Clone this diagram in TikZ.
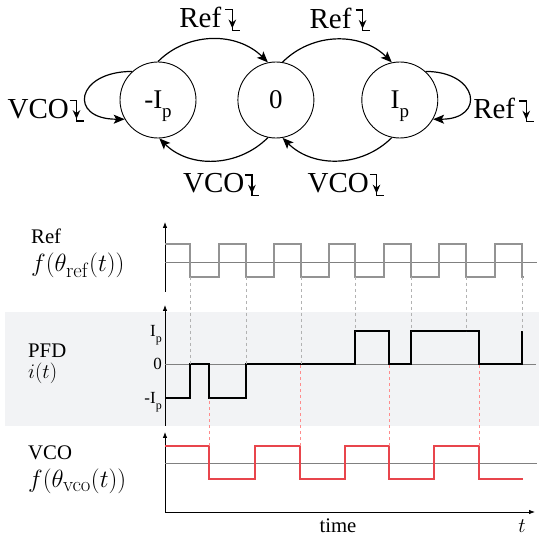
\documentclass[tikz,border=0pt]{standalone}
\usepackage[no-math]{fontspec}
\setmainfont{Liberation Serif}
\usetikzlibrary{arrows.meta, positioning}

\definecolor{bandgray}{HTML}{F2F3F5}
\definecolor{vcored}{HTML}{E8454C}

% falling-edge mark after an event name
\newcommand{\falledge}{\tikz[baseline=0pt, x=1em, y=1em]{%
  \draw[-, line width=0.045em] (0,0.62) -- (0.24,0.62) -- (0.24,-0.09) -- (0.5,-0.09);
  \draw[-{Stealth[length=0.3em,width=0.26em]}, line width=0.045em] (0.24,0.4) -- (0.24,-0.02);}}
% current level with a low hanging p
\newcommand{\Ilevel}[2]{#1\smash{\fontsize{#2}{#2}\selectfont\raisebox{-0.46em}{p}}}

\begin{document}
\begin{tikzpicture}[
  x=1pt, y=1pt,
  state/.style={circle, draw=black, line width=0.9pt, minimum size=76pt, inner sep=0pt, font=\fontsize{27}{30}\selectfont},
  arr/.style={-{Stealth[length=11pt,width=9pt,inset=2.5pt]}, line width=1.2pt},
  evlbl/.style={inner sep=0pt, font=\fontsize{29}{32}\selectfont},
  lbl/.style={anchor=base west, inner sep=0pt, font=\fontsize{20.74}{24}\selectfont},
  mlbl/.style={anchor=base west, inner sep=0pt, font=\fontsize{24.88}{28}\selectfont},
  lvl/.style={anchor=east, inner sep=0pt, font=\fontsize{17}{20}\selectfont},
  axis/.style={-{Latex[length=6pt,width=4.5pt]}, line width=0.8pt},
  midline/.style={gray, line width=0.7pt},
  refwave/.style={gray!85, line width=1.6pt},
  pfdwave/.style={black, line width=1.5pt},
  vcowave/.style={vcored, line width=1.5pt},
  refdash/.style={gray!60, dashed, line width=0.7pt},
  vcodash/.style={red!45, dashed, line width=0.7pt},
  node distance=41pt
]
\useasboundingbox (0,0) rectangle (539,539);

% state machine
\node[state] (sm) at (158,439) {\Ilevel{-I}{19}};
\node[state, right=41pt of sm] (s0) {0};
\node[state, right=47pt of s0] (sp) {\Ilevel{I}{19}};

\draw[arr] (sm.90) to[out=45,in=135] node[evlbl, above=8pt, xshift=-3pt] {Ref\hspace{0.12em}\falledge} (s0.102);
\draw[arr] (s0.80) to[out=45,in=135] node[evlbl, above=8pt, xshift=3pt] {Ref\hspace{0.12em}\falledge} (sp.102);
\draw[arr] (s0.258) to[out=-135,in=-45] node[evlbl, below=13pt, xshift=8pt] {VCO\falledge} (sm.-88);
\draw[arr] (sp.258) to[out=-135,in=-45] node[evlbl, below=13pt, xshift=9pt] {VCO\falledge} (s0.-80);
\draw[arr] (sm.132) to[out=180,in=180,looseness=3] node[evlbl, left=1pt, yshift=-15pt] {VCO\falledge} (sm.210);
\draw[arr] (sp.48) to[out=0,in=0,looseness=2.8] node[evlbl, right=4pt, yshift=-15pt] {Ref\hspace{0.12em}\falledge} (sp.-30);

% PFD band
\fill[bandgray] (5,113) rectangle (539,227);

% Ref
\node[lbl] (lref) at (31,295) {Ref};
\node[mlbl] (fref) at ([yshift=-28pt]lref.base west) {$f(\theta_{\mathrm{ref}}(t))$};
\draw[axis] (165,247) -- (165,317);
\draw[midline] (165,277) -- (537,277);
\draw[refwave] (165,295) -| (190,262) -| (219,295) -| (246,262) -| (274,295) -| (301,262) -| (329,295)
  -| (355,262) -| (384,295) -| (411,262) -| (439,295) -| (466,262) -| (495,295) -| (522,262) -- (524,262);

% PFD
\node[lbl] (lpfd) at (28,181) {PFD};
\node[lbl] (ipfd) at ([yshift=-21pt]lpfd.base west) {$i(t)$};
\draw[axis] (165,113) -- (165,234);
\draw[midline] (165,175) -- (536,175);
\node[lvl] (lvhi) at (162,208) {\Ilevel{I}{12}};
\node[lvl] (lvzero) at (162,175) {0};
\node[lvl] (lvlo) at (162,141) {\Ilevel{-I}{12}};
\draw[pfdwave] (165,141) -| (190,175) -| (209,141) -| (246,175) -| (355,208) -| (389,175) -| (411,208)
  -| (479,175) -| (522,208);

% VCO
\node[lbl] (lvco) at (28,79) {VCO};
\node[mlbl] (fvco) at ([yshift=-28pt]lvco.base west) {$f(\theta_{\mathrm{vco}}(t))$};
\draw[axis] (165,27) -- (165,107);
\draw[axis] (165,27) -- (535,27);
\draw[midline] (165,76) -- (537,76);
\draw[vcowave] (165,93) -| (209,60) -| (255,93) -| (300,60) -| (345,93) -| (389,60) -| (434,93)
  -| (479,60) -- (523,60);
\node[anchor=base, inner sep=0pt, font=\fontsize{20.74}{24}\selectfont] (ltime) at (338,6) {time};
\node[anchor=base, inner sep=0pt, font=\fontsize{20.74}{24}\selectfont] (lt) at (522,6) {$t$};

% edges of Ref down to PFD
\draw[refdash] (190,262) -- (190,175);
\draw[refdash] (246,262) -- (246,175);
\draw[refdash] (301,262) -- (301,175);
\draw[refdash] (355,262) -- (355,208);
\draw[refdash] (411,262) -- (411,208);
\draw[refdash] (466,262) -- (466,208);
\draw[refdash] (522,262) -- (522,208);
% edges of VCO up to PFD
\draw[vcodash] (209,93) -- (209,141);
\draw[vcodash] (300,93) -- (300,175);
\draw[vcodash] (389,93) -- (389,175);
\draw[vcodash] (479,93) -- (479,175);
\end{tikzpicture}
\end{document}
